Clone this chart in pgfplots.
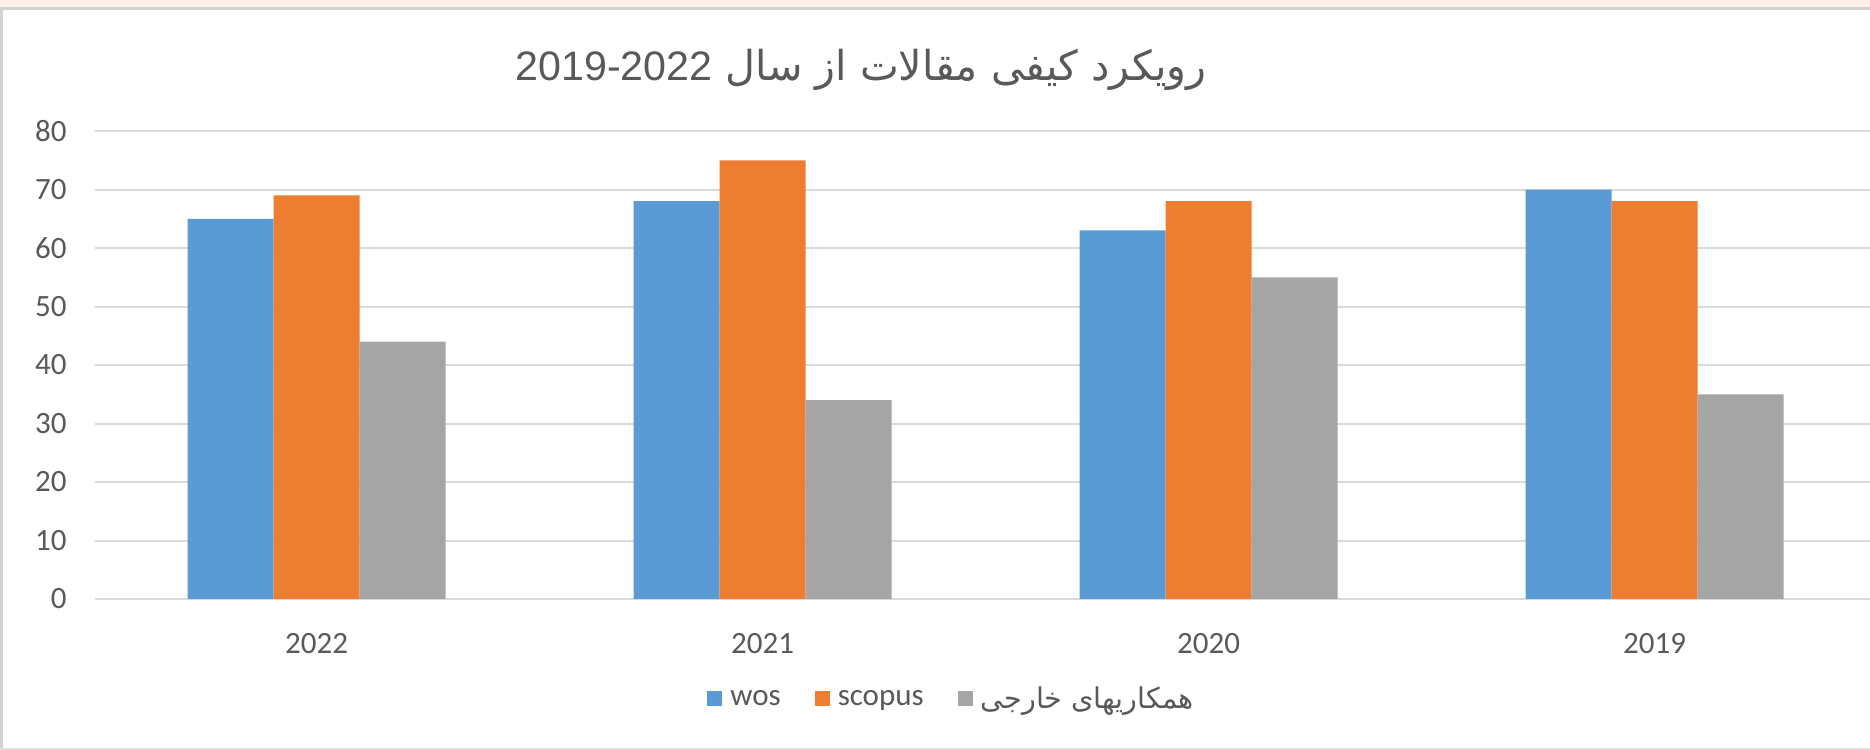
\documentclass[border=0pt]{standalone}
\usepackage{pgfplots}
\pgfplotsset{compat=1.18}
\usepackage{fontspec}
\setmainfont{Carlito}
\newfontfamily\arabicfont[Script=Arabic]{DejaVu Sans}
\newfontfamily\arialfont{Liberation Sans}
\TeXXeTstate=1
\definecolor{cblue}{HTML}{5B9BD5}
\definecolor{corange}{HTML}{ED7D31}
\definecolor{cgray}{HTML}{A5A5A5}
\definecolor{textgray}{HTML}{595959}
\definecolor{gridgray}{HTML}{D9D9D9}
\definecolor{bandpeach}{HTML}{FCEFE8}
\begin{document}
\begin{tikzpicture}[x=1pt,y=1pt]
\fill[white] (0,0) rectangle (935,375);
\path[use as bounding box] (0,0) rectangle (935,375);
\fill[bandpeach] (0,371) rectangle (935,375);
\draw[gray!35, line width=1.5pt] (0.75,0) -- (0.75,370.5) -- (935,370.5);
\draw[gray!25, line width=1pt] (0,0.5) -- (935,0.5);
\begin{axis}[
  at={(47.7pt,75.5pt)}, anchor=south west,
  scale only axis, width=887.3pt, height=234pt,
  ybar=0pt, bar width=43pt,
  xmin=-0.496, xmax=3.483, ymin=0, ymax=80,
  xtick={0,1,2,3}, xticklabels={2022,2021,2020,2019},
  ytick={0,10,...,80},
  ymajorgrids, grid style={draw=gridgray, line width=1pt},
  axis line style={draw=none},
  major tick length=0pt,
  tick label style={font=\fontsize{15.5}{18}\selectfont, text=textgray},
  /pgf/number format/assume math mode=true,
  yticklabel style={anchor=east, inner sep=0pt, xshift=-14.2pt},
  xticklabel style={anchor=center, inner sep=0pt, yshift=-22.5pt},
  legend style={at={(rel axis cs:0.4819,-0.2137)}, anchor=center, draw=none, fill=none,
    legend columns=3, font=\fontsize{15.5}{18}\selectfont, text=textgray,
    nodes={inner xsep=0pt, inner ysep=1pt},
    /tikz/every odd column/.append style={column sep=4pt},
    /tikz/every even column/.append style={column sep=17pt}},
  legend image code/.code={\fill[#1,draw=none] (0pt,-3.6pt) rectangle (7.5pt,3.9pt);},
  ]
\addplot[fill=cblue, draw=none] coordinates {(0,65) (1,68) (2,63) (3,70)};
\addplot[fill=corange, draw=none] coordinates {(0,69) (1,75) (2,68) (3,68)};
\addplot[fill=cgray, draw=none] coordinates {(0,44) (1,34) (2,55) (3,35)};
\legend{wos, scopus, {\arabicfont\fontsize{14.3}{17}\selectfont\beginR همکاریهای خارجی\endR}}
\end{axis}
\node[text=textgray, font=\fontsize{20.6}{25}\selectfont] at (430.5,340)
  {\arabicfont\beginR رویکرد کیفی مقالات از سال \beginL{\arialfont 2019-2022}\endL\endR};
\end{tikzpicture}
\end{document}
